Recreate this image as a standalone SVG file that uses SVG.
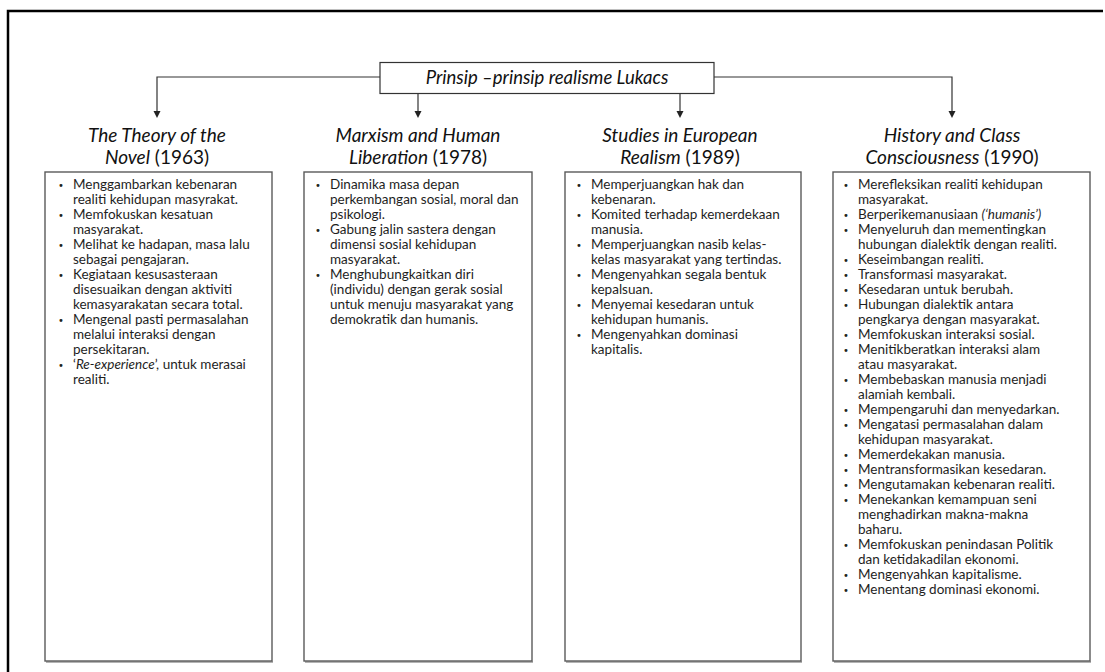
<svg xmlns="http://www.w3.org/2000/svg" width="1105" height="672" viewBox="0 0 1105 672">
<defs>
<style>
.frame{fill:none;stroke:#000;stroke-width:2.5}
.conn{fill:none;stroke:#333;stroke-width:1.2}
.arrow{fill:#222}
.box{fill:#fff;stroke:#5a5a5a;stroke-width:1.4}
.shadow{fill:none;stroke:#9a9a9a;stroke-width:1.5}
.title{font-family:Lato,"Liberation Sans",sans-serif;font-style:italic;font-size:18.5px;fill:#111;text-anchor:middle}
.hd{font-family:Lato,"Liberation Sans",sans-serif;font-size:19px;fill:#111;text-anchor:middle}
.it{font-style:italic}
.t{font-family:Lato,"Liberation Sans",sans-serif;font-size:13.5px;fill:#1e1e1e}
.b{font-family:"DejaVu Sans",sans-serif;font-size:10px;fill:#222}
</style>
</defs>
<rect width="1105" height="672" fill="#fff"/>
<path class="frame" d="M8,672 L8,11 L1103,11"/>

<g id="connectors">
<path class="conn" d="M380,77 L157,77 L157,112"/>
<path class="conn" d="M714,77 L952,77 L952,112"/>
<path class="conn" d="M418,93 L418,112"/>
<path class="conn" d="M680,93 L680,112"/>
<path class="arrow" d="M153.5,111 L160.5,111 L157,118 Z"/>
<path class="arrow" d="M948.5,111 L955.5,111 L952,118 Z"/>
<path class="arrow" d="M414.5,111 L421.5,111 L418,118 Z"/>
<path class="arrow" d="M676.5,111 L683.5,111 L680,118 Z"/>
</g>

<g id="root">
<rect x="380" y="62.5" width="334" height="31" fill="#fff" stroke="#333" stroke-width="1.2"/>
<text class="title" x="547" y="84">Prinsip –prinsip realisme Lukacs</text>
</g>

<g id="col1">
<text class="hd" x="157" y="142"><tspan class="it">The Theory of the</tspan></text>
<text class="hd" x="157" y="164"><tspan class="it">Novel</tspan> (1963)</text>
<line class="shadow" x1="46" y1="662" x2="273" y2="662"/>
<rect class="box" x="45" y="172" width="227" height="489"/>
<g class="b">
<text x="58" y="189">•</text><text x="58" y="219">•</text><text x="58" y="249">•</text><text x="58" y="279">•</text><text x="58" y="324">•</text><text x="58" y="369">•</text>
</g>
<g class="t">
<text x="73" y="189">Menggambarkan kebenaran</text>
<text x="73" y="204">realiti kehidupan masyrakat.</text>
<text x="73" y="219">Memfokuskan kesatuan</text>
<text x="73" y="234">masyarakat.</text>
<text x="73" y="249">Melihat ke hadapan, masa lalu</text>
<text x="73" y="264">sebagai pengajaran.</text>
<text x="73" y="279">Kegiataan kesusasteraan</text>
<text x="73" y="294">disesuaikan dengan aktiviti</text>
<text x="73" y="309">kemasyarakatan secara total.</text>
<text x="73" y="324">Mengenal pasti permasalahan</text>
<text x="73" y="339">melalui interaksi dengan</text>
<text x="73" y="354">persekitaran.</text>
<text x="73" y="369">‘<tspan class="it">Re-experience</tspan>’, untuk merasai</text>
<text x="73" y="384">realiti.</text>
</g>
</g>

<g id="col2">
<text class="hd" x="418" y="142"><tspan class="it">Marxism and Human</tspan></text>
<text class="hd" x="418" y="164"><tspan class="it">Liberation</tspan> (1978)</text>
<line class="shadow" x1="305" y1="662" x2="533" y2="662"/>
<rect class="box" x="304" y="172" width="228" height="489"/>
<g class="b">
<text x="315" y="189">•</text><text x="315" y="234">•</text><text x="315" y="279">•</text>
</g>
<g class="t">
<text x="330" y="189">Dinamika masa depan</text>
<text x="330" y="204">perkembangan  sosial, moral dan</text>
<text x="330" y="219">psikologi.</text>
<text x="330" y="234">Gabung jalin sastera dengan</text>
<text x="330" y="249">dimensi sosial kehidupan</text>
<text x="330" y="264">masyarakat.</text>
<text x="330" y="279">Menghubungkaitkan diri</text>
<text x="330" y="294">(individu) dengan gerak sosial</text>
<text x="330" y="309">untuk menuju masyarakat yang</text>
<text x="330" y="324">demokratik dan humanis.</text>
</g>
</g>

<g id="col3">
<text class="hd" x="680" y="142"><tspan class="it">Studies in European</tspan></text>
<text class="hd" x="680" y="164"><tspan class="it">Realism</tspan> (1989)</text>
<line class="shadow" x1="566" y1="662" x2="802" y2="662"/>
<rect class="box" x="565" y="172" width="236" height="489"/>
<g class="b">
<text x="576" y="189">•</text><text x="576" y="219">•</text><text x="576" y="249">•</text><text x="576" y="279">•</text><text x="576" y="309">•</text><text x="576" y="339">•</text>
</g>
<g class="t">
<text x="591" y="189">Memperjuangkan hak dan</text>
<text x="591" y="204">kebenaran.</text>
<text x="591" y="219">Komited terhadap kemerdekaan</text>
<text x="591" y="234">manusia.</text>
<text x="591" y="249">Memperjuangkan nasib kelas-</text>
<text x="591" y="264">kelas masyarakat yang tertindas.</text>
<text x="591" y="279">Mengenyahkan segala bentuk</text>
<text x="591" y="294">kepalsuan.</text>
<text x="591" y="309">Menyemai kesedaran untuk</text>
<text x="591" y="324">kehidupan humanis.</text>
<text x="591" y="339">Mengenyahkan dominasi</text>
<text x="591" y="354">kapitalis.</text>
</g>
</g>

<g id="col4">
<text class="hd" x="952" y="142"><tspan class="it">History and Class</tspan></text>
<text class="hd" x="952" y="164"><tspan class="it">Consciousness</tspan> (1990)</text>
<line class="shadow" x1="834" y1="662" x2="1091" y2="662"/>
<rect class="box" x="833" y="172" width="257" height="489"/>
<g class="b">
<text x="843" y="189">•</text><text x="843" y="219">•</text><text x="843" y="234">•</text><text x="843" y="264">•</text><text x="843" y="279">•</text><text x="843" y="294">•</text><text x="843" y="309">•</text><text x="843" y="339">•</text><text x="843" y="354">•</text><text x="843" y="384">•</text><text x="843" y="414">•</text><text x="843" y="429">•</text><text x="843" y="459">•</text><text x="843" y="474">•</text><text x="843" y="489">•</text><text x="843" y="504">•</text><text x="843" y="549">•</text><text x="843" y="579">•</text><text x="843" y="594">•</text>
</g>
<g class="t">
<text x="858" y="189">Merefleksikan realiti kehidupan</text>
<text x="858" y="204">masyarakat.</text>
<text x="858" y="219">Berperikemanusiaan <tspan class="it">(‘humanis’)</tspan></text>
<text x="858" y="234">Menyeluruh dan mementingkan</text>
<text x="858" y="249">hubungan dialektik dengan realiti.</text>
<text x="858" y="264">Keseimbangan realiti.</text>
<text x="858" y="279">Transformasi masyarakat.</text>
<text x="858" y="294">Kesedaran untuk berubah.</text>
<text x="858" y="309">Hubungan dialektik antara</text>
<text x="858" y="324">pengkarya dengan masyarakat.</text>
<text x="858" y="339">Memfokuskan interaksi sosial.</text>
<text x="858" y="354">Menitikberatkan interaksi alam</text>
<text x="858" y="369">atau masyarakat.</text>
<text x="858" y="384">Membebaskan manusia menjadi</text>
<text x="858" y="399">alamiah kembali.</text>
<text x="858" y="414">Mempengaruhi dan menyedarkan.</text>
<text x="858" y="429">Mengatasi permasalahan dalam</text>
<text x="858" y="444">kehidupan masyarakat.</text>
<text x="858" y="459">Memerdekakan manusia.</text>
<text x="858" y="474">Mentransformasikan kesedaran.</text>
<text x="858" y="489">Mengutamakan kebenaran realiti.</text>
<text x="858" y="504">Menekankan kemampuan seni</text>
<text x="858" y="519">menghadirkan makna-makna</text>
<text x="858" y="534">baharu.</text>
<text x="858" y="549">Memfokuskan penindasan Politik</text>
<text x="858" y="564">dan ketidakadilan ekonomi.</text>
<text x="858" y="579">Mengenyahkan kapitalisme.</text>
<text x="858" y="594">Menentang dominasi ekonomi.</text>
</g>
</g>
</svg>
